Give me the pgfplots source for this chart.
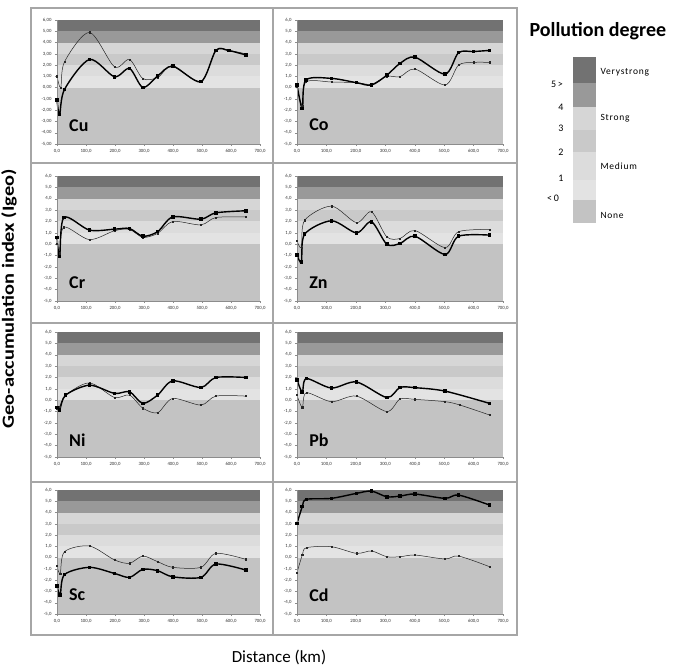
\documentclass[border=0pt]{standalone}
\usepackage{pgfplots}
\pgfplotsset{compat=1.18}
\usepackage{fontspec}
\setmainfont{Carlito}
\definecolor{cvs}{HTML}{727272}
\definecolor{cst}{HTML}{999999}
\definecolor{c34}{HTML}{D6D6D6}
\definecolor{c23}{HTML}{C9C9C9}
\definecolor{c12}{HTML}{DCDCDC}
\definecolor{c01}{HTML}{E3E3E3}
\definecolor{cno}{HTML}{C3C3C3}
\tikzset{elem/.style={anchor=west, font=\fontsize{18}{18}\selectfont\bfseries}}
\pgfplotsset{
  panel/.style={
    scale only axis, height=124pt, width=203pt, anchor=south west,
    xmin=0, xmax=700, ymin=-5, ymax=6,
    axis x line*=bottom, axis y line*=left,
    axis line style={draw=black!45, line width=0.5pt, -},
    xtick={0,100,...,700}, ytick={-5,-4,...,6},
    tick align=outside, major tick length=2pt,
    tick style={black!45, line width=0.4pt},
    ticklabel style={font=\fontsize{4.8}{5}\selectfont, text=black!80},
    /pgf/number format/assume math mode=true,
    xticklabel style={/pgf/number format/.cd, fixed, fixed zerofill, precision=1, use comma, 1000 sep={}},
    yticklabel style={/pgf/number format/.cd, fixed, fixed zerofill, precision=1, use comma},
    axis on top, clip=false,
  },
  thk/.style={black, line width=1.4pt, smooth, tension=0.5, mark=square*, mark size=1.1pt},
  thn/.style={black!85, line width=0.5pt, smooth, tension=0.5, mark=square*, mark size=0.65pt},
}
\newcommand{\bands}{%
  \addplot[draw=none, fill=cno] coordinates {(0,-5) (700,-5) (700,0) (0,0)};
  \addplot[draw=none, fill=c01] coordinates {(0,0) (700,0) (700,1) (0,1)};
  \addplot[draw=none, fill=c12] coordinates {(0,1) (700,1) (700,2) (0,2)};
  \addplot[draw=none, fill=c23] coordinates {(0,2) (700,2) (700,3) (0,3)};
  \addplot[draw=none, fill=c34] coordinates {(0,3) (700,3) (700,4) (0,4)};
  \addplot[draw=none, fill=cst] coordinates {(0,4) (700,4) (700,5) (0,5)};
  \addplot[draw=none, fill=cvs] coordinates {(0,5) (700,5) (700,6) (0,6)};
}
\begin{document}
\begin{tikzpicture}
\path[use as bounding box] (0,0) rectangle (686pt,-667pt);
% ---------- Cu
\begin{axis}[panel, at={(57pt,-144pt)},
  yticklabel style={/pgf/number format/precision=2}]
\bands
\addplot[thn] coordinates {(0,1.0) (13,0.0) (26,2.3) (112,4.9) (198,1.85) (250,2.5) (296,0.8) (347,0.9) (399,1.95) (496,0.5) (548,3.35) (593,3.3) (651,3.0)};
\addplot[thk] coordinates {(0,-1.1) (9,-2.4) (26,-0.15) (112,2.5) (198,0.97) (250,1.7) (296,0.02) (347,1.03) (399,1.9) (496,0.53) (548,3.3) (593,3.28) (651,2.9)};
\node[elem] at (axis cs:30,-3.4) {Cu};
\end{axis}
% ---------- Co
\begin{axis}[panel, width=206pt, at={(297pt,-144pt)}]
\bands
\addplot[thn] coordinates {(0,0.1) (18,-1.6) (30,0.5) (117,0.5) (202,0.44) (253,0.3) (305,1.0) (350,0.97) (401,1.65) (503,0.23) (549,2.0) (600,2.24) (654,2.24)};
\addplot[thk] coordinates {(0,0.23) (18,-1.84) (30,0.67) (117,0.82) (202,0.44) (253,0.23) (305,1.1) (350,2.15) (401,2.7) (503,1.2) (549,3.1) (600,3.2) (654,3.3)};
\node[elem] at (axis cs:30,-3.3) {Co};
\end{axis}
% ---------- Cr
\begin{axis}[panel, height=125pt, at={(57pt,-301pt)}]
\bands
\addplot[thn] coordinates {(0,0.06) (9,-0.8) (24,1.5) (112,0.4) (198,1.18) (250,1.3) (296,0.6) (347,0.95) (399,2.0) (496,1.7) (548,2.35) (651,2.4)};
\addplot[thk] coordinates {(0,0.6) (9,-1.1) (24,2.35) (112,1.24) (198,1.32) (250,1.38) (296,0.7) (347,1.1) (399,2.4) (496,2.2) (548,2.76) (651,2.94)};
\node[elem] at (axis cs:30,-3.35) {Cr};
\end{axis}
% ---------- Zn
\begin{axis}[panel, width=206pt, height=125pt, at={(297pt,-301pt)}]
\bands
\addplot[thn] coordinates {(0,0.3) (15,-0.3) (26,2.1) (117,3.35) (202,1.9) (253,2.85) (305,0.65) (350,0.5) (401,1.2) (503,-0.3) (549,1.1) (654,1.3)};
\addplot[thk] coordinates {(0,-0.97) (15,-1.56) (26,0.88) (117,2.06) (202,1.0) (253,1.97) (305,0.0) (350,0.06) (401,0.7) (503,-0.9) (549,0.7) (654,0.8)};
\node[elem] at (axis cs:30,-3.35) {Zn};
\end{axis}
% ---------- Ni
\begin{axis}[panel, height=125pt, at={(57pt,-457pt)}]
\bands
\addplot[thn] coordinates {(0,-0.7) (9,-0.6) (30,0.45) (112,1.52) (198,0.24) (250,0.45) (296,-0.7) (347,-1.1) (399,0.15) (496,-0.43) (548,0.36) (651,0.36)};
\addplot[thk] coordinates {(0,-0.63) (9,-0.86) (30,0.45) (112,1.32) (198,0.6) (250,0.74) (296,-0.28) (347,0.45) (399,1.7) (496,1.12) (548,2.0) (651,2.0)};
\node[elem] at (axis cs:30,-3.5) {Ni};
\end{axis}
% ---------- Pb
\begin{axis}[panel, width=206pt, height=125pt, at={(297pt,-457pt)}]
\bands
\addplot[thn] coordinates {(0,0.45) (18,-0.63) (32,0.65) (117,-0.13) (202,0.36) (305,-1.0) (350,0.1) (401,0.07) (503,-0.13) (554,-0.43) (654,-1.3)};
\addplot[thk] coordinates {(0,1.8) (18,0.72) (32,1.9) (117,1.07) (202,1.6) (305,0.24) (350,1.12) (401,1.1) (503,0.8) (654,-0.28)};
\node[elem] at (axis cs:30,-3.5) {Pb};
\end{axis}
% ---------- Sc
\begin{axis}[panel, at={(57pt,-614pt)}]
\bands
\addplot[thn] coordinates {(0,-0.75) (11,-1.4) (26,0.53) (112,1.03) (198,-0.2) (250,-0.5) (296,0.14) (347,-0.36) (399,-0.86) (496,-0.86) (548,0.38) (651,-0.15)};
\addplot[thk] coordinates {(0,-2.5) (11,-3.3) (26,-1.5) (112,-0.86) (198,-1.4) (250,-1.75) (296,-1.04) (347,-1.16) (399,-1.7) (496,-1.75) (548,-0.57) (651,-1.1)};
\node[elem] at (axis cs:30,-3.3) {Sc};
\end{axis}
% ---------- Cd
\begin{axis}[panel, width=206pt, at={(297pt,-614pt)}]
\bands
\addplot[thn] coordinates {(0,-1.33) (18,0.23) (32,0.88) (117,0.97) (202,0.38) (253,0.59) (305,0.08) (350,0.08) (401,0.23) (503,-0.12) (549,0.14) (654,-0.8)};
\addplot[thk] coordinates {(0,3.04) (18,4.52) (32,5.17) (117,5.26) (202,5.7) (253,5.9) (305,5.4) (350,5.46) (401,5.64) (503,5.26) (549,5.55) (654,4.67)};
\node[elem] at (axis cs:30,-3.3) {Cd};
\end{axis}
% ---------- frames
\begin{scope}[draw=black!35, line width=1.2pt]
\draw (31pt,-8pt) rectangle (517pt,-635pt);
\draw (273pt,-8pt) -- (273pt,-635pt);
\draw (31pt,-163pt) -- (517pt,-163pt);
\draw (31pt,-323pt) -- (517pt,-323pt);
\draw (31pt,-482pt) -- (517pt,-482pt);
\end{scope}
% ---------- titles
\node[rotate=90, anchor=south, inner sep=0pt, font=\fontsize{17}{17}\selectfont\bfseries] at (17pt,-299pt) {\scalebox{1.2}[1]{Geo-accumulation index (Igeo)}};
\node[font=\fontsize{17}{17}\selectfont] at (279pt,-657pt) {Distance (km)};
% ---------- legend
\node[anchor=west, font=\fontsize{20}{20}\selectfont\bfseries] at (526pt,-31pt) {Pollution degree};
\fill[cvs] (573pt,-57pt) rectangle (596pt,-83pt);
\fill[cst] (573pt,-83pt) rectangle (596pt,-107pt);
\fill[c34] (573pt,-107pt) rectangle (596pt,-130pt);
\fill[c23] (573pt,-130pt) rectangle (596pt,-152pt);
\fill[c12] (573pt,-152pt) rectangle (596pt,-180pt);
\fill[c01] (573pt,-180pt) rectangle (596pt,-200pt);
\fill[cno] (573pt,-200pt) rectangle (596pt,-223pt);
\begin{scope}[font=\fontsize{10}{10}\selectfont]
\node at (557pt,-84pt) {5\,>};
\node at (561pt,-107pt) {4};
\node at (561pt,-128pt) {3};
\node at (561pt,-152pt) {2};
\node at (561pt,-178pt) {1};
\node at (553pt,-198pt) {<\,0};
\end{scope}
\begin{scope}[font=\fontsize{9.5}{10}\selectfont\addfontfeature{LetterSpace=8}]
\node[anchor=west] at (597pt,-72pt) {Verystrong};
\node[anchor=west] at (597pt,-118pt) {Strong};
\node[anchor=west] at (597pt,-166pt) {Medium};
\node[anchor=west] at (597pt,-215pt) {None};
\end{scope}
\end{tikzpicture}
\end{document}
